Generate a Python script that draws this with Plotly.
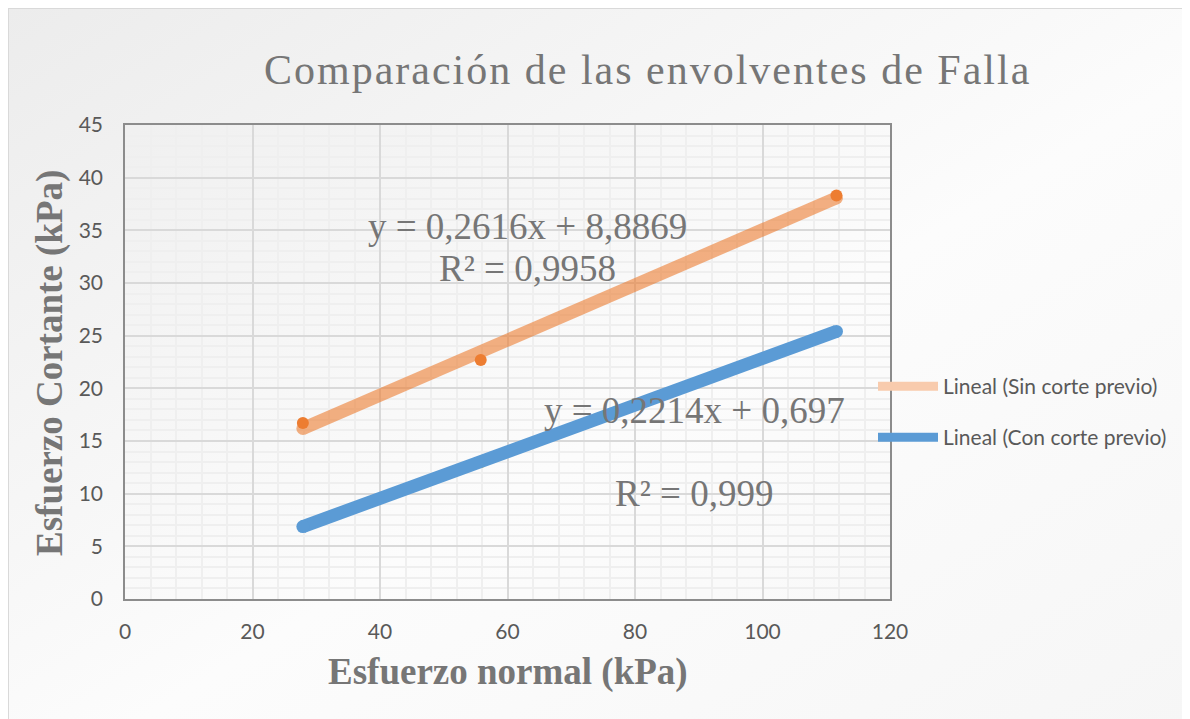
import base64
import plotly.graph_objects as go

# ---- data ----
x_sin = [27.9, 55.8, 111.6]
y_sin = [16.7, 22.7, 38.3]
x_con = [27.9, 55.8, 111.6]
y_con = [6.9, 12.9, 25.4]
slope_sin, icpt_sin = 0.2616, 8.8869
slope_con, icpt_con = 0.2214, 0.697
eq_sin = "y = 0,2616x + 8,8869"
r2_sin = "R² = 0,9958"
eq_con = "y = 0,2214x + 0,697"
r2_con = "R² = 0,999"
x_ticks = [0, 20, 40, 60, 80, 100, 120]
y_ticks = [0, 5, 10, 15, 20, 25, 30, 35, 40, 45]
title_text = "Comparación de las envolventes de Falla"
xtitle_text = "Esfuerzo normal (kPa)"
ytitle_text = "Esfuerzo Cortante (kPa)"
name_sin = "Lineal (Sin corte previo)"
name_con = "Lineal (Con corte previo)"

# page has an 8px body margin; figure coordinates = page - OFF
OFF = 8
W, H = 1190 - OFF, 719 - OFF
L, T = 125 - OFF, 125 - OFF
PW, PH = 765, 474
R, B = W - L - PW, H - T - PH

ORANGE = "#ED7D31"
BLUE = "#5B9BD5"
YELLOW = "#FFC000"

trend_x_sin = [min(x_sin), max(x_sin)]
trend_y_sin = [slope_sin * v + icpt_sin for v in trend_x_sin]
trend_x_con = [min(x_con), max(x_con)]
trend_y_con = [slope_con * v + icpt_con for v in trend_x_con]

fig = go.Figure()
# hidden markers of "con corte previo" series
fig.add_trace(go.Scatter(x=x_con, y=y_con, mode="markers",
                         marker=dict(color=YELLOW, size=10), showlegend=False, hoverinfo="skip"))
# trendlines (with round end caps via markers)
fig.add_trace(go.Scatter(x=trend_x_sin, y=trend_y_sin, mode="lines+markers", showlegend=False,
                         line=dict(color=ORANGE, width=13), opacity=0.6,
                         marker=dict(color=ORANGE, size=13, line=dict(width=0)), hoverinfo="skip"))
fig.add_trace(go.Scatter(x=trend_x_con, y=trend_y_con, mode="lines+markers", showlegend=False,
                         line=dict(color=BLUE, width=13),
                         marker=dict(color=BLUE, size=13, line=dict(width=0)), hoverinfo="skip"))
fig.add_trace(go.Scatter(x=x_sin, y=y_sin, mode="markers",
                         marker=dict(color=ORANGE, size=12), showlegend=False, hoverinfo="skip"))
# legend entries
fig.add_trace(go.Scatter(x=[None], y=[None], mode="lines", name=name_sin,
                         line=dict(color="#F8CBAD", width=9), legend="legend"))
fig.add_trace(go.Scatter(x=[None], y=[None], mode="lines", name=name_con,
                         line=dict(color=BLUE, width=9), legend="legend2"))

svg = (f'<svg xmlns="http://www.w3.org/2000/svg" width="{W}" height="{H}">'
       '<defs><linearGradient id="g" x1="0" y1="0" x2="1" y2="1">'
       '<stop offset="0" stop-color="#ececec"/><stop offset="0.55" stop-color="#fcfcfc"/>'
       '<stop offset="1" stop-color="#f6f6f6"/></linearGradient></defs>'
       f'<rect x="0" y="0" width="{1186 - OFF}" height="{H + 10}" fill="url(#g)" stroke="#d9d9d9" stroke-width="2"/>'
       '</svg>')
src = "data:image/svg+xml;base64," + base64.b64encode(svg.encode()).decode()

tickfont = dict(family="Lato, Open Sans, sans-serif", size=21, color="#595959")
axis_common = dict(showline=True, linecolor="#8c8c8c", linewidth=1.5, mirror=True,
                   ticks="", zeroline=False, gridcolor="#d9d9d9", gridwidth=1.5,
                   tickfont=tickfont)

legfont = dict(family="Lato, Open Sans, sans-serif", size=21, color="#595959")
fig.update_layout(
    width=W, height=H,
    margin=dict(l=L, r=R, t=T, b=B, autoexpand=False),
    paper_bgcolor="white", plot_bgcolor="rgba(0,0,0,0)",
    images=[dict(source=src, xref="paper", yref="paper", x=-L / PW, y=1 + T / PH,
                 sizex=W / PW, sizey=H / PH, xanchor="left", yanchor="top",
                 sizing="stretch", layer="below")],
    xaxis=dict(range=[0, 120], tickvals=x_ticks, ticklabelstandoff=13,
               minor=dict(dtick=4, showgrid=True, gridcolor="#efefef", gridwidth=1.5),
               **axis_common),
    yaxis=dict(range=[0, 45], tickvals=y_ticks, ticklabelstandoff=16,
               minor=dict(dtick=1, showgrid=True, gridcolor="#efefef", gridwidth=1.5),
               **axis_common),
    legend=dict(x=(873 - 125) / PW, y=(599 - 366) / PH, xanchor="left", yanchor="top",
                itemwidth=60, bgcolor="rgba(0,0,0,0)", font=legfont),
    legend2=dict(x=(873 - 125) / PW, y=(599 - 417) / PH, xanchor="left", yanchor="top",
                 itemwidth=60, bgcolor="rgba(0,0,0,0)", font=legfont),
    showlegend=True,
)

serif = "Liberation Serif, Times New Roman, serif"
gray = "#767676"
ann = [
    dict(text=f"<span style='letter-spacing:2px'>{title_text}</span>", xref="paper", yref="paper",
         x=(647 - 125) / PW, y=(599 - 70) / PH, font=dict(family=serif, size=42, color=gray)),
    dict(text=f"<b>{xtitle_text}</b>", xref="paper", yref="paper",
         x=(508 - 125) / PW, y=(599 - 672) / PH, font=dict(family=serif, size=37, color=gray)),
    dict(text=f"<b>{ytitle_text}</b>", xref="paper", yref="paper", textangle=-90,
         x=(50 - 125) / PW, y=(599 - 363) / PH, font=dict(family=serif, size=37, color=gray)),
    dict(text=eq_sin, x=63.2, y=35.4, xref="x", yref="y", font=dict(family=serif, size=37, color=gray)),
    dict(text=r2_sin, x=63.2, y=31.4, xref="x", yref="y", font=dict(family=serif, size=37, color=gray)),
    dict(text=eq_con, x=89.4, y=17.85, xref="x", yref="y", font=dict(family=serif, size=37, color=gray)),
    dict(text=r2_con, x=89.3, y=10.0, xref="x", yref="y", font=dict(family=serif, size=37, color=gray)),
]
for a in ann:
    a.update(showarrow=False, xanchor="center", yanchor="middle")
fig.update_layout(annotations=ann)

fig.write_html("out.html")
